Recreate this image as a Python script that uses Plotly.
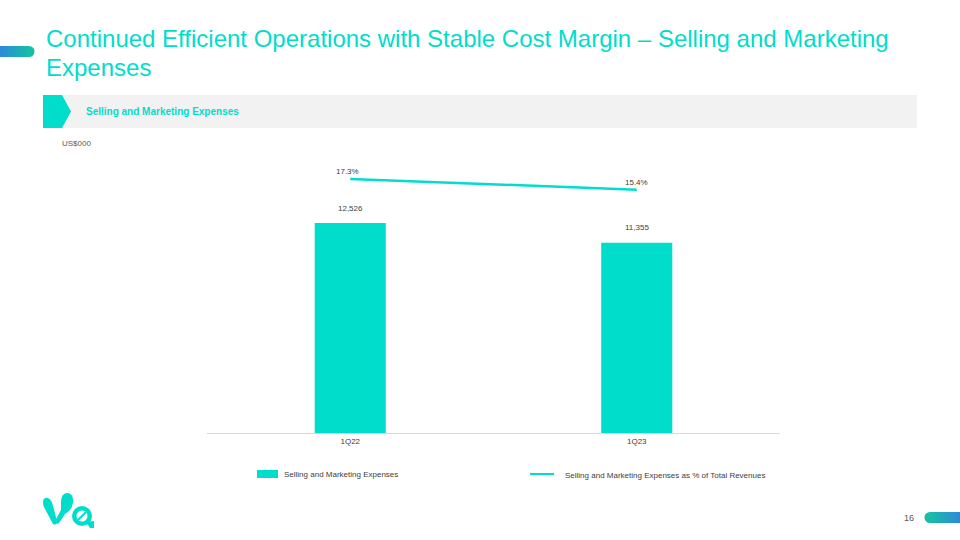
import plotly.graph_objects as go

# ---------------- data ----------------
categories = ["1Q22", "1Q23"]
sm_expenses = [12526, 11355]          # US$000
sm_pct_revenue = [17.3, 15.4]         # % of total revenues
expense_labels = ["12,526", "11,355"]
pct_labels = ["17.3%", "15.4%"]

title_line1 = "Continued Efficient Operations with Stable Cost Margin \u2013 Selling and Marketing"
title_line2 = "Expenses"
section_title = "Selling and Marketing Expenses"
unit_label = "US$000"
legend_bar = "Selling and Marketing Expenses"
legend_line = "Selling and Marketing Expenses as % of Total Revenues"
page_number = "16"

# ---------------- styling ----------------
W, H = 960, 540
TEAL = "#00DDCB"
FONT = "Liberation Sans, Arial, sans-serif"


def px(x):
    return x / W


def py(y):
    return 1 - y / H


def path(points):
    return "M " + " L ".join(f"{px(x):.5f},{py(y):.5f}" for x, y in points) + " Z"


def qpath(cmds):
    out = []
    for c in cmds:
        op = c[0]
        nums = c[1:]
        coords = [f"{px(nums[i]):.5f},{py(nums[i+1]):.5f}" for i in range(0, len(nums), 2)]
        out.append(op + " " + " ".join(coords))
    return " ".join(out) + " Z"


def lerp_color(c1, c2, t):
    a = [int(c1[i:i + 2], 16) for i in (1, 3, 5)]
    b = [int(c2[i:i + 2], 16) for i in (1, 3, 5)]
    return "#" + "".join(f"{round(a[k] + (b[k] - a[k]) * t):02x}" for k in range(3))


fig = go.Figure()

fig.add_trace(go.Bar(
    x=categories, y=sm_expenses, marker=dict(color=TEAL, line=dict(width=0)),
    width=0.248, name=legend_bar, yaxis="y", showlegend=False,
    hoverinfo="skip",
))
fig.add_trace(go.Scatter(
    x=categories, y=sm_pct_revenue, mode="lines", line=dict(color=TEAL, width=2.5),
    name=legend_line, yaxis="y2", showlegend=False, hoverinfo="skip",
))

annotations = []
for c, v, t in zip(categories, sm_expenses, expense_labels):
    annotations.append(dict(x=c, y=v, xref="x", yref="y", text=t, showarrow=False,
                            yanchor="middle", yshift=15,
                            font=dict(family=FONT, size=8, color="#404040")))
for i, (c, v, t) in enumerate(zip(categories, sm_pct_revenue, pct_labels)):
    annotations.append(dict(x=c, y=v, xref="x", yref="y2", text=t, showarrow=False,
                            yanchor="middle", yshift=7, xshift=-3 if i == 0 else 0,
                            font=dict(family=FONT, size=8, color="#404040")))

annotations += [
    dict(x=px(44), y=py(38), xref="paper", yref="paper", text=title_line1, showarrow=False,
         xanchor="left", yanchor="middle", font=dict(family=FONT, size=24, color=TEAL)),
    dict(x=px(44), y=py(67), xref="paper", yref="paper", text=title_line2, showarrow=False,
         xanchor="left", yanchor="middle", font=dict(family=FONT, size=24, color=TEAL)),
    dict(x=px(84), y=py(112), xref="paper", yref="paper", text=f"<b>{section_title}</b>",
         showarrow=False, xanchor="left", yanchor="middle",
         font=dict(family=FONT, size=10, color=TEAL)),
    dict(x=px(60), y=py(143), xref="paper", yref="paper", text=unit_label, showarrow=False,
         xanchor="left", yanchor="middle", font=dict(family=FONT, size=8, color="#595959")),
    dict(x=px(282), y=py(474), xref="paper", yref="paper", text=legend_bar, showarrow=False,
         xanchor="left", yanchor="middle", font=dict(family=FONT, size=8, color="#404040")),
    dict(x=px(563), y=py(475), xref="paper", yref="paper", text=legend_line, showarrow=False,
         xanchor="left", yanchor="middle", font=dict(family=FONT, size=8, color="#404040")),
    dict(x=px(916), y=py(518), xref="paper", yref="paper", text=page_number, showarrow=False,
         xanchor="right", yanchor="middle", font=dict(family=FONT, size=9, color="#595959")),
]

shapes = []
# section header band
shapes.append(dict(type="rect", xref="paper", yref="paper", x0=px(43), x1=px(917),
                   y0=py(128), y1=py(95), fillcolor="#F2F2F2", line=dict(width=0), layer="below"))
shapes.append(dict(type="path", xref="paper", yref="paper",
                   path=path([(43, 95), (62, 95), (71, 111.5), (62, 128), (43, 128)]),
                   fillcolor=TEAL, line=dict(width=0)))

# legend markers
shapes.append(dict(type="rect", xref="paper", yref="paper", x0=px(257), x1=px(278),
                   y0=py(478), y1=py(470), fillcolor=TEAL, line=dict(width=0)))
shapes.append(dict(type="line", xref="paper", yref="paper", x0=px(530), x1=px(554),
                   y0=py(474), y1=py(474), line=dict(color=TEAL, width=2)))

# gradient bars (decorations)
BLUE = "#2E8AD8"
GREEN = "#18BCA8"
n = 30


def gradient_bar(x0, x1, ya, yb, c_left, c_right, round_right):
    r = (yb - ya) / 2
    if round_right:
        shapes.append(dict(type="circle", xref="paper", yref="paper", x0=px(x1 - r), x1=px(x1 + r),
                           y0=py(yb), y1=py(ya), fillcolor=c_right, line=dict(width=0)))
    else:
        shapes.append(dict(type="circle", xref="paper", yref="paper", x0=px(x0 - r), x1=px(x0 + r),
                           y0=py(yb), y1=py(ya), fillcolor=c_left, line=dict(width=0)))
    for i in range(n):
        xa = x0 + (x1 - x0) * i / n
        xb = min(x0 + (x1 - x0) * (i + 1) / n + 1.0, x1)
        shapes.append(dict(type="rect", xref="paper", yref="paper", x0=px(xa), x1=px(xb),
                           y0=py(yb), y1=py(ya), fillcolor=lerp_color(c_left, c_right, i / (n - 1)),
                           line=dict(width=0)))


gradient_bar(0, 29, 46, 57, BLUE, GREEN, True)
gradient_bar(930, 960, 512, 523, GREEN, BLUE, False)

# logo (approximate)
shapes.append(dict(type="path", xref="paper", yref="paper", fillcolor=TEAL, line=dict(width=0),
                   path=qpath([("M", 43, 503), ("Q", 43, 497, 48, 498), ("Q", 52, 500, 53, 506),
                               ("L", 57, 521), ("Q", 57, 526, 53, 524), ("L", 45, 509),
                               ("Q", 43, 506, 43, 503)])))
shapes.append(dict(type="path", xref="paper", yref="paper", fillcolor=TEAL, line=dict(width=0),
                   path=qpath([("M", 61, 503), ("Q", 61, 493, 67, 493), ("Q", 74, 493, 73, 503),
                               ("Q", 72, 510, 65, 514), ("L", 59, 523), ("Q", 56, 525, 55, 521),
                               ("L", 61, 510), ("Q", 61, 507, 61, 503)])))
shapes.append(dict(type="circle", xref="paper", yref="paper", x0=px(72), x1=px(92),
                   y0=py(526), y1=py(506), fillcolor=TEAL, line=dict(width=0)))
shapes.append(dict(type="circle", xref="paper", yref="paper", x0=px(76.5), x1=px(87.5),
                   y0=py(521.5), y1=py(510.5), fillcolor="white", line=dict(width=0)))
shapes.append(dict(type="line", xref="paper", yref="paper", x0=px(78), x1=px(86),
                   y0=py(520), y1=py(512), line=dict(color=TEAL, width=2)))
shapes.append(dict(type="path", xref="paper", yref="paper", fillcolor=TEAL, line=dict(width=0),
                   path=path([(86, 522), (94, 521), (94, 528), (90, 528)])))

fig.update_layout(
    width=W, height=H, autosize=False,
    margin=dict(l=0, r=0, t=0, b=0),
    paper_bgcolor="white", plot_bgcolor="white",
    showlegend=False,
    xaxis=dict(domain=[px(207), px(780)], showline=True, linecolor="#D9D9D9", linewidth=1,
               showgrid=False, zeroline=False, ticks="", fixedrange=True,
               tickfont=dict(family=FONT, size=8, color="#404040"), range=[-0.5, 1.5]),
    yaxis=dict(domain=[py(433), py(160)], range=[0, 16284], visible=False, fixedrange=True),
    yaxis2=dict(overlaying="y", range=[-27.8, 20.67], visible=False, fixedrange=True),
    annotations=annotations,
    shapes=shapes,
    bargap=0.5,
)

fig.write_html("out.html", config={"displayModeBar": False},
               post_script="document.body.style.margin='0';document.body.style.overflow='hidden';")
